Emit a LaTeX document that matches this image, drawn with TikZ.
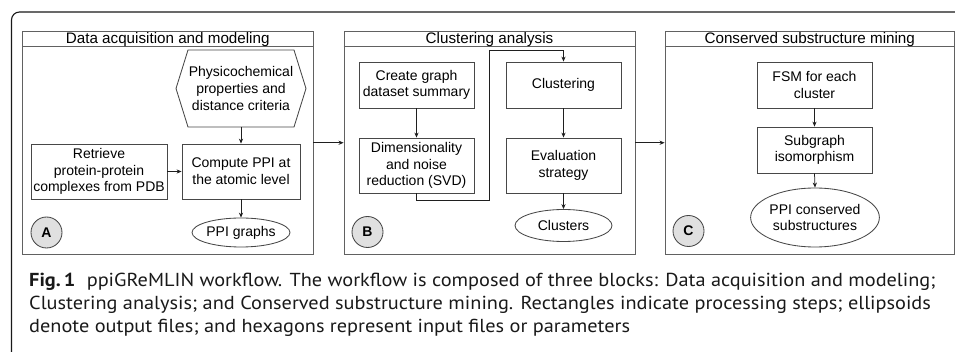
\documentclass[tikz,border=0pt]{standalone}
\usepackage{fontspec}
\setmainfont{Liberation Sans}
\newfontfamily\capfont[FakeStretch=1.08]{PT Sans}
\usetikzlibrary{arrows.meta,shapes.geometric}
\begin{document}
\begin{tikzpicture}[x=1pt,y=-1pt,
  blockframe/.style={draw=black!62, line width=0.9pt, inner sep=0pt},
  boxline/.style={draw=black!72, line width=0.85pt},
  procbox/.style={boxline, rectangle, align=center, inner sep=0pt, font=\fontsize{14}{16.7}\selectfont},
  outell/.style={boxline, ellipse, align=center, inner sep=0pt, font=\fontsize{14}{16.7}\selectfont},
  plaintext/.style={align=center, inner sep=0pt, font=\fontsize{14}{16.5}\selectfont},
  titletext/.style={inner sep=0pt, font=\fontsize{15.2}{17}\selectfont},
  tagcirc/.style={circle, draw=black!72, line width=0.85pt, fill=black!12, minimum size=31pt, inner sep=0pt, font=\bfseries\fontsize{14}{16}\selectfont},
  arr/.style={-{Stealth[length=5pt,width=4.2pt]}, line width=0.75pt, draw=black!88},
  captext/.style={anchor=base west, inner sep=0pt, font=\capfont\fontsize{18.8}{23}\selectfont, text=black!90}
]
\useasboundingbox (0,0) rectangle (955,352);
% outer frame
\draw[black!90, line width=1.1pt, rounded corners=8pt] (11.5,352) -- (11.5,12) -- (956,12);

% ---------- Block A ----------
\node[blockframe, minimum width=290.5pt, minimum height=222.5pt] (blkA) at (167.75,142.75) {};
\draw[blockframe] ([yshift=-15.5pt]blkA.north west) -- ([yshift=-15.5pt]blkA.north east);
\node[titletext] (tA) at (167.75,39.5) {Data acquisition and modeling};

\draw[boxline] (176,88.5) -- (188,50) -- (294,50) -- (306,88.5) -- (294,127) -- (188,127) -- cycle;
\node[plaintext] (hexA) at (241,88.5) {Physicochemical\\properties and\\distance criteria};
\coordinate (hexbot) at (241,127);

\node[procbox, minimum width=118pt, minimum height=55pt] (cmp) at (241,171.5) {Compute PPI at\\the atomic level};
\node[procbox, minimum width=136pt, minimum height=55pt] (ret) at (99,171.5) {Retrieve\\protein-protein\\complexes from PDB};
\node[outell, minimum width=97pt, minimum height=29pt] (ppig) at (241,232.5) {PPI graphs};
\node[tagcirc] (cA) at (46.5,232.5) {A};

\draw[arr] (hexbot) -- (cmp.north);
\draw[arr] (ret.east) -- (cmp.west);
\draw[arr] (cmp.south) -- (ppig.north);

% ---------- Block B ----------
\node[blockframe, minimum width=291pt, minimum height=222.5pt] (blkB) at (489.5,142.75) {};
\draw[blockframe] ([yshift=-15.5pt]blkB.north west) -- ([yshift=-15.5pt]blkB.north east);
\node[titletext] (tB) at (489.5,39.5) {Clustering analysis};

\node[procbox, minimum width=115pt, minimum height=46pt] (cgd) at (416.5,85) {Create graph\\dataset summary};
\node[procbox, minimum width=115pt, minimum height=55pt] (dim) at (416.5,165.5) {Dimensionality\\and noise\\reduction (SVD)};
\node[procbox, minimum width=115pt, minimum height=46pt] (clu) at (563.5,85) {Clustering};
\node[procbox, minimum width=115pt, minimum height=55pt] (evs) at (563.5,165.5) {Evaluation\\strategy};
\node[outell, minimum width=97pt, minimum height=32pt] (cls) at (563.5,225.5) {Clusters};
\node[tagcirc] (cB) at (367.5,232) {B};

\draw[arr] (cgd.south) -- (dim.north);
\draw[arr] (dim.south) |- (489,200.5) -- (489,50.5) -| (clu.north);
\draw[arr] (clu.south) -- (evs.north);
\draw[arr] (evs.south) -- (cls.north);

% ---------- Block C ----------
\node[blockframe, minimum width=289.5pt, minimum height=222.5pt] (blkC) at (809.75,142.75) {};
\draw[blockframe] ([yshift=-15.5pt]blkC.north west) -- ([yshift=-15.5pt]blkC.north east);
\node[titletext] (tC) at (809.75,39.5) {Conserved substructure mining};

\node[procbox, minimum width=115pt, minimum height=46pt] (fsm) at (814.5,85) {FSM for each\\cluster};
\node[procbox, minimum width=115pt, minimum height=46pt] (sgi) at (814.5,150) {Subgraph\\isomorphism};
\node[outell, minimum width=115pt, minimum height=59pt] (pcs) at (815,217.5) {PPI conserved\\substructures};
\node[tagcirc] (cC) at (688.5,231) {C};

\draw[arr] (fsm.south) -- (sgi.north);
\draw[arr] (sgi.south) -- (pcs.north);

% inter-block arrows
\draw[arr] (blkA.east) -- (blkB.west);
\draw[arr] (blkB.east) -- (blkC.west);

% ---------- Caption ----------
\node[captext] (cap1) at (29,287) {\textbf{Fig.\,1}\hspace{0.6em}ppiGReMLIN workflow. The workflow is composed of three blocks: Data acquisition and modeling;};
\node[captext] (cap2) at (29,310) {Clustering analysis; and Conserved substructure mining. Rectangles indicate processing steps; ellipsoids};
\node[captext] (cap3) at (29,333) {denote output files; and hexagons represent input files or parameters};
\end{tikzpicture}
\end{document}
